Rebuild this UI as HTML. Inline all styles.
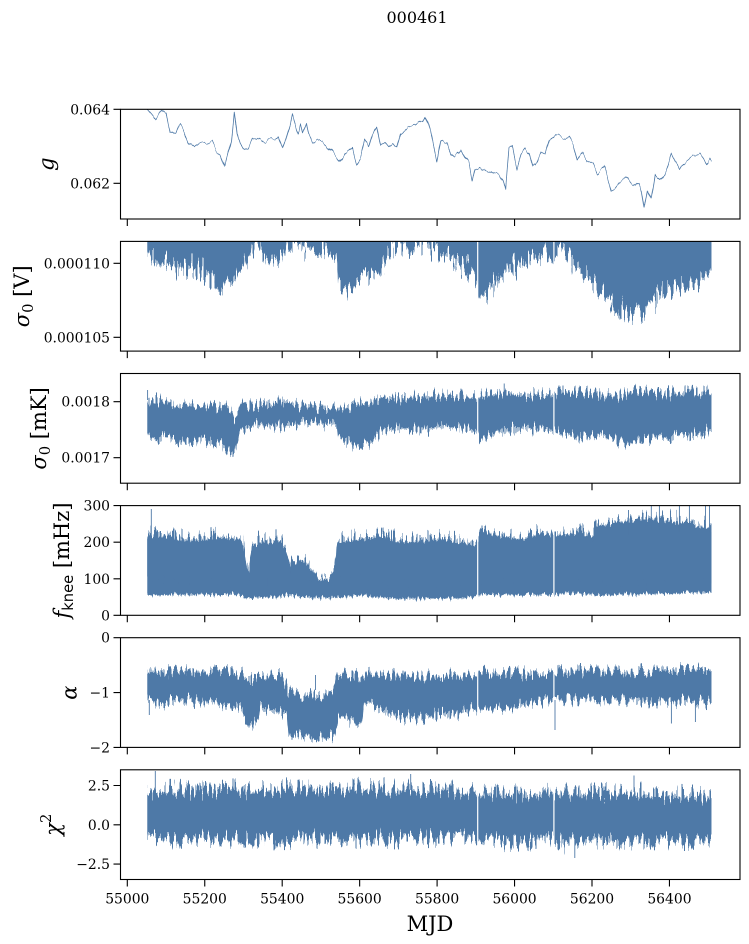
<!DOCTYPE html>
<html><head><meta charset="utf-8">
<style>
html,body{margin:0;padding:0;background:#fff;}
svg{display:block;}
text{font-family:"DejaVu Serif","Liberation Serif",serif;fill:#000;}
</style></head>
<body>
<svg width="749" height="944" viewBox="0 0 749 944" xmlns="http://www.w3.org/2000/svg">
<defs>
<clipPath id="c0"><rect x="120.5" y="109.3" width="619.5" height="109.7"/></clipPath>
<clipPath id="c1"><rect x="120.5" y="241.4" width="619.5" height="109.7"/></clipPath>
<clipPath id="c2"><rect x="120.5" y="373.5" width="619.5" height="109.7"/></clipPath>
<clipPath id="c3"><rect x="120.5" y="505.6" width="619.5" height="109.7"/></clipPath>
<clipPath id="c4"><rect x="120.5" y="637.7" width="619.5" height="109.7"/></clipPath>
<clipPath id="c5"><rect x="120.5" y="769.8" width="619.5" height="109.7"/></clipPath>

<filter id="fg" filterUnits="userSpaceOnUse" x="0" y="0" width="749" height="944" color-interpolation-filters="sRGB">
 <feTurbulence type="fractalNoise" baseFrequency="0.13 0.02" numOctaves="3" seed="7" result="n"/>
 <feColorMatrix in="n" type="matrix" values="0 0 0 0 0.5  0 1.4 0 0 -0.2  0 0 0 0 0.5  0 0 0 0 1" result="m"/>
 <feDisplacementMap in="SourceGraphic" in2="m" scale="8" xChannelSelector="R" yChannelSelector="G"/>
</filter>
<filter id="fa" filterUnits="userSpaceOnUse" x="0" y="0" width="749" height="944" color-interpolation-filters="sRGB">
 <feTurbulence type="fractalNoise" baseFrequency="0.45 0.03" numOctaves="2" seed="3" result="n"/>
 <feColorMatrix in="n" type="matrix" values="0 0 0 0 0.5  0 1.8 0 0 -0.4  0 0 0 0 0.5  0 0 0 0 1" result="m"/>
 <feDisplacementMap in="SourceGraphic" in2="m" scale="30" xChannelSelector="R" yChannelSelector="G"/>
</filter>
<filter id="fb" filterUnits="userSpaceOnUse" x="0" y="0" width="749" height="944" color-interpolation-filters="sRGB">
 <feTurbulence type="fractalNoise" baseFrequency="0.5 0.035" numOctaves="2" seed="11" result="n"/>
 <feColorMatrix in="n" type="matrix" values="0 0 0 0 0.5  0 1.8 0 0 -0.4  0 0 0 0 0.5  0 0 0 0 1" result="m"/>
 <feDisplacementMap in="SourceGraphic" in2="m" scale="16" xChannelSelector="R" yChannelSelector="G"/>
</filter>
<filter id="fc" filterUnits="userSpaceOnUse" x="0" y="0" width="749" height="944" color-interpolation-filters="sRGB">
 <feTurbulence type="fractalNoise" baseFrequency="0.5 0.035" numOctaves="2" seed="23" result="n"/>
 <feColorMatrix in="n" type="matrix" values="0 0 0 0 0.5  0 1.8 0 0 -0.4  0 0 0 0 0.5  0 0 0 0 1" result="m"/>
 <feDisplacementMap in="SourceGraphic" in2="m" scale="22" xChannelSelector="R" yChannelSelector="G"/>
</filter>
<filter id="fw" filterUnits="userSpaceOnUse" x="0" y="0" width="749" height="944" color-interpolation-filters="sRGB">
 <feTurbulence type="fractalNoise" baseFrequency="0.5 0.035" numOctaves="2" seed="31" result="n"/>
 <feColorMatrix in="n" type="matrix" values="0 0 0 0 0.5  0 1.8 0 0 -0.4  0 0 0 0 0.5  0 0 0 0 1" result="m"/>
 <feDisplacementMap in="SourceGraphic" in2="m" scale="6" xChannelSelector="R" yChannelSelector="G"/>
</filter>
</defs>
<rect x="0" y="0" width="749" height="944" fill="#fff"/>

<text x="417" y="23" font-size="16" text-anchor="middle">000461</text>

<!-- Panel 1: g -->
<g clip-path="url(#c0)"><g filter="url(#fg)"><g transform="translate(120,100) scale(0.401,0.33333)">
<polyline fill="none" stroke="#4e79a7" stroke-width="0.8" vector-effect="non-scaling-stroke" stroke-linejoin="round"
points="68,28 80,45 90,60 100,40 110,28 115,35 120,70 125,98 140,100 150,75 160,95 170,125 185,140 200,125 215,130 230,125 240,150 250,160 262,198 270,160 278,125 285,38 292,100 300,130 310,150 320,140 330,110 345,120 360,125 375,115 385,120 395,110 405,145 415,110 425,70 430,40 440,80 445,95 450,70 455,100 465,70 470,100 480,130 490,120 505,125 520,140 530,160 545,185 560,160 575,150 580,145 590,190 600,170 610,120 620,140 630,100 640,75 650,135 660,125 670,140 680,130 690,145 700,100 710,90 720,80 740,72 755,60 760,45 770,80 775,100 790,180 800,120 815,130 825,160 835,175 850,150 860,170 870,185 878,240 885,200 900,205 915,210 930,220 945,225 955,245 962,270 970,140 978,135 990,200 1000,160 1010,145 1020,160 1030,200 1040,190 1050,160 1060,160 1070,120 1085,100 1100,110 1110,115 1120,110 1130,130 1140,180 1155,160 1165,180 1180,190 1190,220 1200,210 1210,200 1225,270 1235,260 1245,245 1255,240 1265,235 1275,250 1285,260 1295,250 1300,270 1307,328 1315,270 1325,300 1335,220 1350,240 1360,220 1375,165 1385,190 1395,210 1405,190 1415,180 1430,165 1445,160 1455,175 1462,195 1470,180 1475,190"/>
</g></g></g>

<!-- Panel 2 -->
<g clip-path="url(#c1)"><g filter="url(#fa)"><g transform="translate(120,100) scale(0.401,0.33333)">
<polygon fill="#4e79a7" points="68,340 1475,340 1475,520 1465,530 1450,540 1430,545 1410,555 1390,560 1370,575 1350,590 1330,600 1310,620 1290,635 1270,640 1250,625 1230,605 1210,585 1190,565 1170,545 1150,520 1130,490 1110,470 1090,460 1082,470 1075,470 1050,475 1030,480 1010,490 990,500 970,510 950,530 930,560 910,580 895,585 890,540 880,520 860,500 840,490 820,475 800,460 780,445 760,440 740,435 720,432 700,430 680,440 668,450 660,485 645,535 630,525 610,530 590,535 575,565 560,560 545,545 540,470 530,465 515,450 490,445 460,440 430,428 416,430 412,480 400,470 380,480 360,470 345,445 338,428 330,440 320,470 305,510 285,540 265,560 245,565 225,545 210,520 190,505 160,505 130,500 110,495 90,490 75,470 68,455"/>
</g></g></g>

<!-- Panel 3 -->
<g clip-path="url(#c2)"><g filter="url(#fb)"><g transform="translate(120,365) scale(0.401,0.33333)">
<polygon fill="#4e79a7" points="68,110 100,105 150,120 200,125 250,120 275,130 285,160 295,130 300,115 340,120 400,105 450,120 500,125 540,130 545,140 580,115 620,115 650,95 700,100 750,95 800,90 850,95 890,100 900,95 950,80 1000,90 1050,90 1082,85 1100,80 1150,80 1200,95 1250,90 1300,70 1350,85 1400,85 1475,80 1475,195 1400,210 1350,215 1300,230 1250,230 1200,215 1150,215 1100,210 1082,200 1050,190 1000,190 950,200 900,230 890,200 850,190 800,185 750,195 700,190 650,200 620,240 580,235 545,220 540,175 500,175 450,180 400,185 340,180 300,200 285,270 250,240 200,220 150,225 100,215 68,215"/>
</g></g>
<path d="M504.2 395V383.5M147.6 400V390M563 395V385.5" stroke="#4e79a7" stroke-width="0.9"/>
</g>

<!-- Panel 4 -->
<g clip-path="url(#c3)">
<g filter="url(#fw)"><g transform="translate(120,365) scale(0.401,0.33333)">
<polygon fill="#4e79a7" points="68,515 100,510 150,525 200,530 250,520 300,525 308,545 315,605 322,625 330,550 345,535 400,530 415,565 425,605 450,590 470,605 485,630 500,645 520,645 535,615 542,535 600,525 650,515 700,535 750,530 800,525 850,535 888,545 900,505 950,515 1000,525 1050,505 1080,515 1100,515 1150,505 1175,525 1190,485 1250,475 1300,465 1350,465 1400,475 1475,495 1475,682 1200,690 1100,686 1080,690 1000,690 900,688 888,695 850,700 800,700 700,702 650,698 600,692 540,698 500,700 450,695 420,690 400,695 310,700 300,688 68,690"/>
</g></g>
<g filter="url(#fc)"><g transform="translate(120,365) scale(0.401,0.33333)">
<polygon fill="#4e79a7" points="68,510 100,505 150,520 200,525 250,515 300,520 308,540 315,600 322,620 330,545 345,530 400,525 415,560 425,600 450,585 470,600 485,625 500,640 520,640 535,610 542,530 600,520 650,510 700,530 750,525 800,520 850,530 888,540 900,500 950,510 1000,520 1050,500 1080,510 1100,510 1150,500 1175,520 1190,480 1250,470 1300,460 1350,460 1400,470 1475,490 1475,637 1200,645 1100,641 1080,645 1000,645 900,643 888,650 850,655 800,655 700,657 650,653 600,647 540,653 500,655 450,650 420,645 400,650 310,655 300,643 68,645"/>
</g></g>
<path d="M151.3 540V509M651.3 530V505M659.4 530V505M679.4 532V505M689.4 530V505M705.5 528V505M709.5 532V505M628.5 535V510M420 545V535" stroke="#4e79a7" stroke-width="0.9"/>
</g>

<!-- Panel 5 -->
<g clip-path="url(#c4)"><g filter="url(#fb)"><g transform="translate(120,630) scale(0.401,0.33333)">
<polygon fill="#4e79a7" points="68,125 300,125 308,140 320,150 330,150 345,135 405,135 420,180 450,190 500,200 530,185 540,135 590,135 600,155 608,130 650,130 700,140 750,140 800,135 850,135 888,132 900,125 1000,130 1050,130 1080,128 1100,120 1200,122 1300,120 1475,120 1475,220 1400,215 1350,220 1300,220 1250,215 1200,210 1150,205 1100,210 1080,210 1050,218 1000,230 950,240 900,230 888,235 850,250 800,255 750,262 700,262 650,240 610,220 600,300 580,270 545,265 535,320 500,328 450,322 420,320 415,250 400,245 350,235 345,270 330,280 310,265 300,230 250,218 200,215 150,210 100,225 68,215"/>
</g></g>
<path d="M555 700V730M671.4 700V723.5M695.4 700V722M149.3 700V715M315.5 675V690" stroke="#4e79a7" stroke-width="0.9"/>
</g>

<!-- Panel 6 -->
<g clip-path="url(#c5)"><g filter="url(#fc)"><g transform="translate(120,630) scale(0.401,0.33333)">
<polygon fill="#4e79a7" points="68,480 300,478 500,472 700,475 888,485 900,490 1080,490 1100,490 1300,488 1475,500 1475,630 1300,638 1100,640 1080,630 900,635 888,615 700,625 500,625 300,630 68,625"/>
</g></g>
<path d="M155.3 790V771M410.7 790V774M634 792V775.5M574.8 840V858" stroke="#4e79a7" stroke-width="0.9"/>
</g>

<!-- data gaps -->
<g stroke="#fff" stroke-width="1.2">
<path d="M477.7 241.4V351.1M553.9 241.4V351.1M477.7 373.5V483.2M553.9 373.5V483.2M477.7 505.6V615.3M553.9 505.6V615.3M477.7 637.7V747.4M553.9 637.7V747.4M477.7 769.8V879.5M553.9 769.8V879.5"/>
</g>

<!-- Frames -->
<g fill="none" stroke="#000" stroke-width="1.1">
<rect x="120.5" y="109.3" width="619.5" height="109.7"/>
<rect x="120.5" y="241.4" width="619.5" height="109.7"/>
<rect x="120.5" y="373.5" width="619.5" height="109.7"/>
<rect x="120.5" y="505.6" width="619.5" height="109.7"/>
<rect x="120.5" y="637.7" width="619.5" height="109.7"/>
<rect x="120.5" y="769.8" width="619.5" height="109.7"/>
</g>

<!-- Y ticks -->
<g stroke="#000" stroke-width="1.1">
<path d="M113.5 109.3H120.5M113.5 183.3H120.5M113.5 263.3H120.5M113.5 337.3H120.5M113.5 401.7H120.5M113.5 457.7H120.5M113.5 505.6H120.5M113.5 542.2H120.5M113.5 578.8H120.5M113.5 615.3H120.5M113.5 637.7H120.5M113.5 692.6H120.5M113.5 747.4H120.5M113.5 785.5H120.5M113.5 824.8H120.5M113.5 864.1H120.5"/>
</g>
<!-- X ticks -->
<g stroke="#000" stroke-width="1.1">
<path d="M127.3 219v7M204.75 219v7M282.2 219v7M359.65 219v7M437.1 219v7M514.55 219v7M592 219v7M669.45 219v7
M127.3 351.1v7M204.75 351.1v7M282.2 351.1v7M359.65 351.1v7M437.1 351.1v7M514.55 351.1v7M592 351.1v7M669.45 351.1v7
M127.3 483.2v7M204.75 483.2v7M282.2 483.2v7M359.65 483.2v7M437.1 483.2v7M514.55 483.2v7M592 483.2v7M669.45 483.2v7
M127.3 615.3v7M204.75 615.3v7M282.2 615.3v7M359.65 615.3v7M437.1 615.3v7M514.55 615.3v7M592 615.3v7M669.45 615.3v7
M127.3 747.4v7M204.75 747.4v7M282.2 747.4v7M359.65 747.4v7M437.1 747.4v7M514.55 747.4v7M592 747.4v7M669.45 747.4v7
M127.3 879.5v7M204.75 879.5v7M282.2 879.5v7M359.65 879.5v7M437.1 879.5v7M514.55 879.5v7M592 879.5v7M669.45 879.5v7"/>
</g>

<!-- Y tick labels -->
<g font-size="13.9" text-anchor="end">
<text x="110" y="114.3">0.064</text>
<text x="110" y="188.3">0.062</text>
<text x="110" y="268.3">0.000110</text>
<text x="110" y="342.3">0.000105</text>
<text x="110" y="406.7">0.0018</text>
<text x="110" y="462.7">0.0017</text>
<text x="110" y="510.6">300</text>
<text x="110" y="547.2">200</text>
<text x="110" y="583.8">100</text>
<text x="110" y="620.3">0</text>
<text x="110" y="642.7">0</text>
<text x="110" y="697.6">−1</text>
<text x="110" y="752.4">−2</text>
<text x="110" y="790.5">2.5</text>
<text x="110" y="829.8">0.0</text>
<text x="110" y="869.1">−2.5</text>
</g>

<!-- X tick labels -->
<g font-size="13.9" text-anchor="middle">
<text x="127.3" y="903.6">55000</text>
<text x="204.75" y="903.6">55200</text>
<text x="282.2" y="903.6">55400</text>
<text x="359.65" y="903.6">55600</text>
<text x="437.1" y="903.6">55800</text>
<text x="514.55" y="903.6">56000</text>
<text x="592" y="903.6">56200</text>
<text x="669.45" y="903.6">56400</text>
</g>

<text x="430" y="931" font-size="21" text-anchor="middle">MJD</text>

<!-- Y axis labels -->
<g font-size="21" text-anchor="middle">
<text transform="translate(53.5,164.2) rotate(-90)" font-style="italic">g</text>
<text transform="translate(29,296.3) rotate(-90)"><tspan font-style="italic">σ</tspan><tspan font-size="14.7" dy="4">0</tspan><tspan dy="-4"> [V]</tspan></text>
<text transform="translate(46,428.4) rotate(-90)"><tspan font-style="italic">σ</tspan><tspan font-size="14.7" dy="4">0</tspan><tspan dy="-4"> [mK]</tspan></text>
<text transform="translate(69,560.5) rotate(-90)"><tspan font-style="italic">f</tspan><tspan font-size="14.7" dy="4" font-family="DejaVu Sans, Liberation Sans, sans-serif">knee</tspan><tspan dy="-4"> [mHz]</tspan></text>
<text transform="translate(76.5,692.6) rotate(-90)" font-style="italic">α</text>
<text transform="translate(60,824.7) rotate(-90)"><tspan font-style="italic">χ</tspan><tspan font-size="14.7" dy="-9">2</tspan></text>
</g>
</svg>
</body></html>
